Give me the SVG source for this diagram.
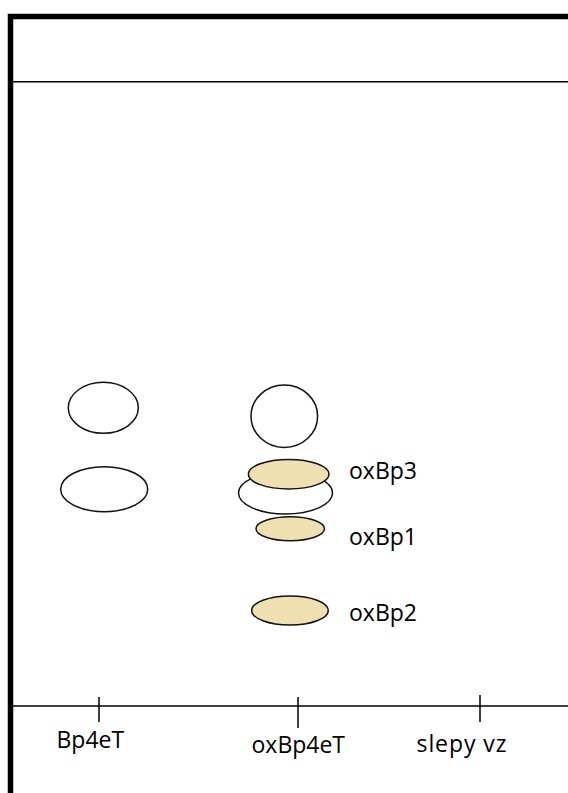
<svg xmlns="http://www.w3.org/2000/svg" width="568" height="793" viewBox="0 0 568 793">
  <style>
    .frame { fill: none; stroke: #000; stroke-width: 5.5; }
    .rule { stroke: #000; stroke-width: 1.5; fill: none; }
    .tick { stroke: #000; stroke-width: 1.5; }
    .spot { fill: #fff; stroke: #111; stroke-width: 1.5; }
    .spot.ox { fill: #efe0b1; }
    .lbl { font-family: "Open Sans", "Noto Sans", "Liberation Sans", sans-serif; font-size: 23px; fill: #000; }
  </style>

  <rect x="0" y="0" width="568" height="793" fill="#fff"/>

  <!-- plate outline: thick top and left edges, solvent front and start line -->
  <g id="plate">
    <path class="frame" d="M10.5 793 V16.5 H568"/>
    <line class="rule" x1="13" y1="81.8" x2="568" y2="81.8"/>
    <line class="rule" x1="13" y1="706" x2="568" y2="706"/>
  </g>

  <!-- application points on the start line -->
  <g id="ticks">
    <line class="tick" x1="99" y1="697" x2="99" y2="722"/>
    <line class="tick" x1="298" y1="697" x2="298" y2="728"/>
    <line class="tick" x1="480" y1="695" x2="480" y2="722"/>
  </g>

  <!-- lane 1: Bp4eT -->
  <g id="lane-bp4et">
    <ellipse class="spot" cx="103.3" cy="407.8" rx="35" ry="25.5"/>
    <ellipse class="spot" cx="104.2" cy="489.2" rx="43.5" ry="22.5"/>
  </g>

  <!-- lane 2: oxBp4eT -->
  <g id="lane-oxbp4et">
    <ellipse class="spot" cx="284.3" cy="416.2" rx="33.3" ry="31.2"/>
    <ellipse class="spot" cx="285.5" cy="493" rx="47" ry="21"/>
    <ellipse id="oxBp3" class="spot ox" cx="288.7" cy="474.2" rx="40.3" ry="14.8"/>
    <ellipse id="oxBp1" class="spot ox" cx="290.2" cy="528.7" rx="34.2" ry="12"/>
    <ellipse id="oxBp2" class="spot ox" cx="290" cy="610.5" rx="38.3" ry="14.5"/>
  </g>

  <!-- spot labels -->
  <g id="spot-labels">
    <text class="lbl" x="349" y="479.3">oxBp3</text>
    <text class="lbl" x="349" y="544.5">oxBp1</text>
    <text class="lbl" x="349" y="620.5">oxBp2</text>
  </g>

  <!-- lane labels -->
  <g id="lane-labels">
    <text class="lbl" x="56.5" y="748.3">Bp4eT</text>
    <text class="lbl" x="251.5" y="753.3">oxBp4eT</text>
    <text class="lbl" x="416.5" y="751.5" textLength="90" lengthAdjust="spacing">slepy vz</text>
  </g>
</svg>
